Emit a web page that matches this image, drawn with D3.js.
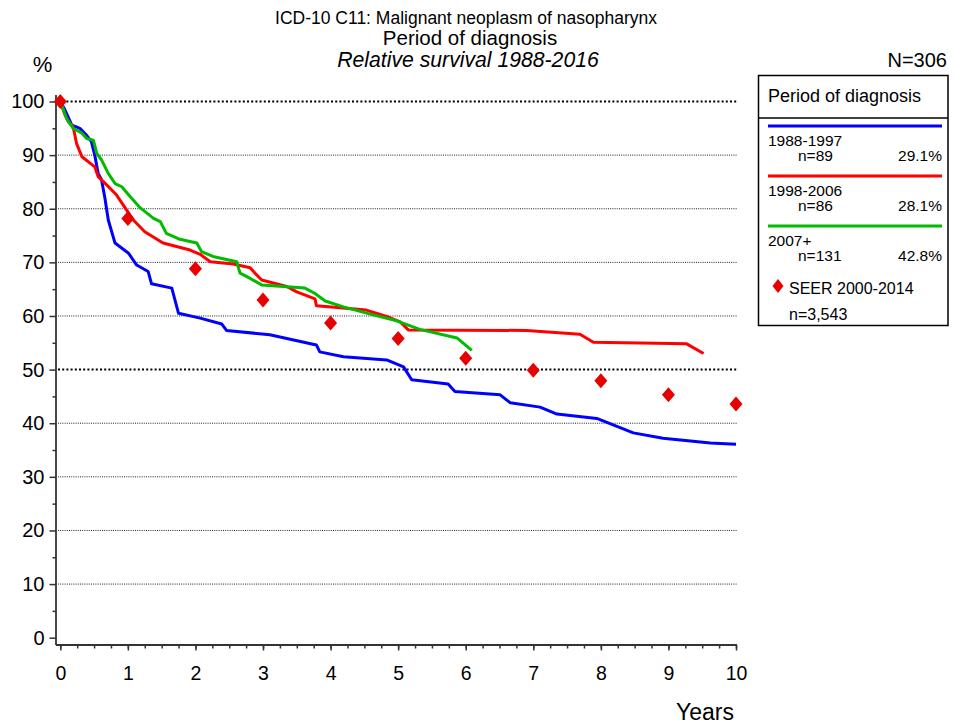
<!DOCTYPE html>
<html>
<head>
<meta charset="utf-8">
<script src="https://cdn.jsdelivr.net/npm/d3@7"></script>
<style>
  html, body { margin: 0; padding: 0; background: #fff; }
  svg { display: block; font-family: "Liberation Sans", Arial, sans-serif; }
</style>
</head>
<body>
<svg id="chart" width="954" height="726"></svg>
<script>
// ---- Data ----
const seriesNames = ["1988-1997", "1998-2006", "2007+"];
const seriesN = ["n=89", "n=86", "n=131"];
const seriesPct = ["29.1%", "28.1%", "42.8%"];
const seriesColors = ["#0000ff", "#ff0000", "#00bb00"];

const blueT = [0,0.07,0.17,0.29,0.39,0.46,0.51,0.56,0.61,0.66,0.71,0.81,1.01,1.13,1.30,1.35,1.65,1.75,2.07,2.39,2.46,3.10,3.79,3.84,4.19,4.83,5.08,5.20,5.74,5.84,6.51,6.66,7.10,7.35,7.94,8.48,8.92,9.62,10.0];
const blueV = [100,98.4,95.6,95.0,93.7,92.5,90.0,86.6,85.4,82.0,77.9,73.6,71.7,69.5,68.3,66.0,65.2,60.5,59.6,58.5,57.3,56.5,54.6,53.3,52.4,51.8,50.5,48.1,47.3,45.9,45.3,43.8,43.0,41.7,40.9,38.2,37.2,36.3,36.1];

const redT = [0,0.07,0.12,0.19,0.24,0.32,0.44,0.51,0.56,0.69,0.83,0.98,1.08,1.25,1.52,1.92,2.07,2.22,2.56,2.81,2.88,2.98,3.35,3.50,3.77,3.79,4.53,4.83,5.03,5.15,6.90,7.69,7.89,9.27,9.52];
const redV = [100,97.5,96.2,95.3,92.2,89.7,88.5,87.8,86.0,84.4,82.6,79.8,77.9,75.7,73.6,72.3,71.5,70.1,69.7,69.0,68.0,66.7,65.5,64.5,63.2,61.9,61.1,59.9,58.9,57.4,57.3,56.6,55.1,54.8,53.0];

const greenT = [0,0.04,0.09,0.19,0.32,0.39,0.49,0.54,0.61,0.71,0.81,0.91,1.01,1.18,1.38,1.48,1.57,1.77,2.02,2.09,2.26,2.61,2.66,2.81,2.98,3.62,3.77,3.92,4.19,4.63,4.98,5.32,5.87,6.09];
const greenV = [100,98.7,96.9,95.0,94.1,93.1,92.8,90.3,89.1,86.6,84.7,84.1,82.6,80.2,78.2,77.6,75.4,74.3,73.6,72.0,71.1,70.1,68.0,67.0,65.8,65.2,64.2,62.8,61.7,60.2,59.1,57.5,55.9,53.6];

const seerT = [0,1,2,3,4,5,6,7,8,9,10];
const seerV = [100,78.2,68.8,63.0,58.7,55.8,52.1,49.9,47.9,45.3,43.6];

const xMajorTicks = [0,1,2,3,4,5,6,7,8,9,10];
const yMajorTicks = [0,10,20,30,40,50,60,70,80,90,100];
const gridValues = [10,20,30,40,50,60,70,80,90,100];

const titleLines = ["ICD-10 C11: Malignant neoplasm of nasopharynx", "Period of diagnosis", "Relative survival 1988-2016"];

// ---- Layout ----
const svg = d3.select("#chart");
const x = d3.scaleLinear().domain([0, 10]).range([60.3, 736]);
const y = d3.scaleLinear().domain([0, 100]).range([637.7, 101.5]);
const axisX0 = 56, axisY0 = 645, plotRight = 737;

// Titles
svg.append("text").attr("x", 466).attr("y", 24).attr("text-anchor", "middle")
  .attr("font-size", 17.5).text(titleLines[0]);
svg.append("text").attr("x", 470).attr("y", 45).attr("text-anchor", "middle")
  .attr("font-size", 20.5).text(titleLines[1]);
svg.append("text").attr("x", 468).attr("y", 67).attr("text-anchor", "middle")
  .attr("font-size", 21.2).attr("font-style", "italic").text(titleLines[2]);
svg.append("text").attr("x", 947).attr("y", 67).attr("text-anchor", "end")
  .attr("font-size", 20).text("N=306");
svg.append("text").attr("x", 42.5).attr("y", 71.5).attr("text-anchor", "middle")
  .attr("font-size", 22).text("%");

// Gridlines
svg.append("g").selectAll("line").data(gridValues).join("line")
  .attr("x1", axisX0 + 2).attr("x2", plotRight)
  .attr("y1", d => y(d)).attr("y2", d => y(d))
  .attr("stroke", d => (d === 100 || d === 50) ? "#000" : "#222")
  .attr("stroke-width", d => (d === 100 || d === 50) ? 2 : 1)
  .attr("stroke-dasharray", d => (d === 100 || d === 50) ? "2,2.2" : "1,1.2");

// Axes lines
svg.append("line").attr("x1", axisX0).attr("x2", axisX0).attr("y1", 95).attr("y2", axisY0)
  .attr("stroke", "#333").attr("stroke-width", 1.8);
svg.append("line").attr("x1", axisX0).attr("x2", plotRight).attr("y1", axisY0).attr("y2", axisY0)
  .attr("stroke", "#333").attr("stroke-width", 1.8);

// X axis ticks (minor + major)
const xMinor = svg.append("g").attr("transform", `translate(0,${axisY0})`)
  .call(d3.axisBottom(x).tickValues(d3.range(0, 10.001, 0.25)).tickSize(3.5).tickFormat(""));
xMinor.select(".domain").remove();
const xMajor = svg.append("g").attr("transform", `translate(0,${axisY0})`)
  .call(d3.axisBottom(x).tickValues(xMajorTicks).tickSize(5.5).tickPadding(16).tickFormat(d3.format("d")));
xMajor.select(".domain").remove();
xMajor.selectAll("text").attr("font-size", 19.5).attr("font-family", "Liberation Sans, Arial, sans-serif").attr("fill", "#000");

// Y axis ticks
const yMinor = svg.append("g").attr("transform", `translate(${axisX0},0)`)
  .call(d3.axisLeft(y).tickValues(d3.range(5, 100, 10)).tickSize(3.5).tickFormat(""));
yMinor.select(".domain").remove();
const yMajor = svg.append("g").attr("transform", `translate(${axisX0},0)`)
  .call(d3.axisLeft(y).tickValues(yMajorTicks).tickSize(6.5).tickPadding(5).tickFormat(d3.format("d")));
yMajor.select(".domain").remove();
svg.selectAll("g.tick line").attr("stroke", "#333").attr("stroke-width", 1.5);
yMajor.selectAll("text").attr("font-size", 20).attr("font-family", "Liberation Sans, Arial, sans-serif").attr("fill", "#000");

svg.append("text").attr("x", 734).attr("y", 720).attr("text-anchor", "end")
  .attr("font-size", 23).text("Years");

// Curves
const curveData = [
  blueT.map((t, i) => [t, blueV[i]]),
  redT.map((t, i) => [t, redV[i]]),
  greenT.map((t, i) => [t, greenV[i]])
];
const line = d3.line().x(d => x(d[0])).y(d => y(d[1]));
svg.append("g").selectAll("path").data(curveData).join("path")
  .attr("d", line)
  .attr("fill", "none")
  .attr("stroke", (d, i) => seriesColors[i])
  .attr("stroke-width", 3)
  .attr("stroke-linejoin", "round");

// SEER diamonds
const diamond = (cx, cy, hw, hh) => `M${cx},${cy - hh}L${cx + hw},${cy}L${cx},${cy + hh}L${cx - hw},${cy}Z`;
svg.append("g").selectAll("path").data(seerT.map((t, i) => [t, seerV[i]])).join("path")
  .attr("d", d => diamond(x(d[0]), y(d[1]), 6.5, 7.5))
  .attr("fill", "#e60000");

// Legend
const lg = svg.append("g");
lg.append("rect").attr("x", 758.5).attr("y", 75.5).attr("width", 189.5).attr("height", 250)
  .attr("fill", "#fff").attr("stroke", "#000").attr("stroke-width", 1.5);
lg.append("line").attr("x1", 758.5).attr("x2", 948).attr("y1", 118).attr("y2", 118)
  .attr("stroke", "#000").attr("stroke-width", 1.5);
lg.append("text").attr("x", 768).attr("y", 102).attr("font-size", 18).text("Period of diagnosis");
seriesNames.forEach((name, i) => {
  const y0 = 126 + i * 50;
  lg.append("line").attr("x1", 768).attr("x2", 942).attr("y1", y0).attr("y2", y0)
    .attr("stroke", seriesColors[i]).attr("stroke-width", 3.2);
  lg.append("text").attr("x", 768).attr("y", y0 + 19.5).attr("font-size", 15.5).text(name);
  lg.append("text").attr("x", 798).attr("y", y0 + 35).attr("font-size", 15.5).text(seriesN[i]);
  lg.append("text").attr("x", 942).attr("y", y0 + 35).attr("text-anchor", "end").attr("font-size", 15.5).text(seriesPct[i]);
});
lg.append("path").attr("d", diamond(778, 286, 5.5, 7)).attr("fill", "#e60000");
lg.append("text").attr("x", 789).attr("y", 294).attr("font-size", 16).text("SEER 2000-2014");
lg.append("text").attr("x", 789).attr("y", 320).attr("font-size", 16).text("n=3,543");
</script>
</body>
</html>
